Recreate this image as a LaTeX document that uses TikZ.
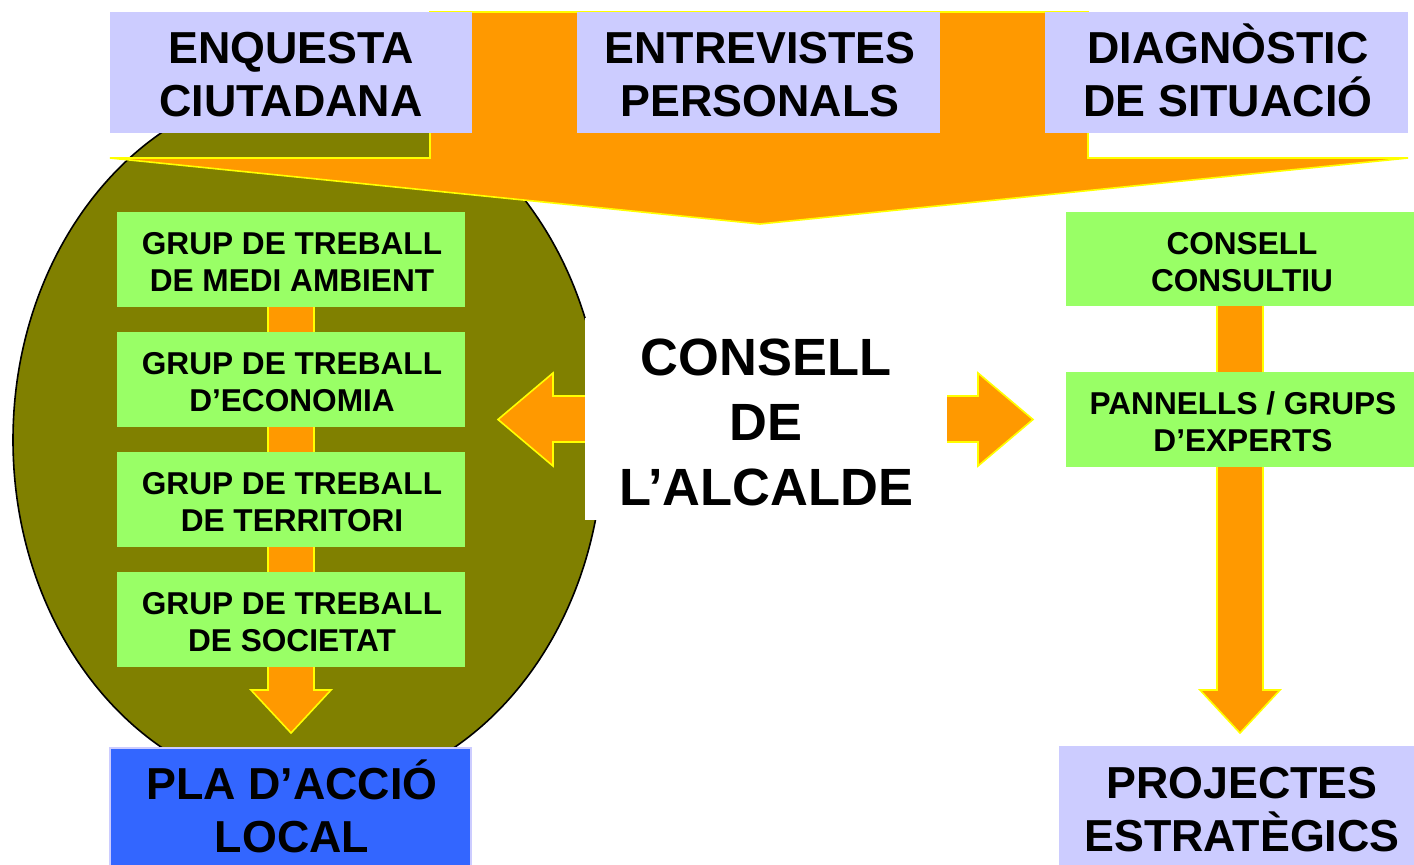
\documentclass[tikz,border=0pt]{standalone}
\usepackage{fontspec}
\setmainfont{Liberation Sans}
\usetikzlibrary{shapes.geometric}
\definecolor{lav}{HTML}{CCCCFF}
\definecolor{grn}{HTML}{99FF66}
\definecolor{olv}{HTML}{808000}
\definecolor{org}{HTML}{FF9900}
\definecolor{ylw}{HTML}{FFFF00}
\definecolor{blu}{HTML}{3366FF}
\begin{document}
\begin{tikzpicture}[x=0.5pt,y=-0.5pt,
  bigtxt/.style={font=\bfseries\fontsize{22.4}{26.5}\selectfont, inner sep=0pt, align=center},
  midtxt/.style={font=\bfseries\fontsize{15.8}{18.5}\selectfont, inner sep=0pt, align=center},
  hugetxt/.style={font=\bfseries\fontsize{26.2}{32.5}\selectfont, inner sep=0pt, align=center},
  lavbox/.style={fill=lav, draw=none, inner sep=0pt},
  grnbox/.style={fill=grn, draw=none, inner sep=0pt, minimum width=174pt, minimum height=47.5pt},
  orarrow/.style={fill=org, draw=ylw, line width=0.8pt, line join=miter},
]
\useasboundingbox (0,0) rectangle (1414,864);
% ellipse
\node (ell) [ellipse, fill=olv, draw=black, line width=0.8pt, minimum width=295pt, minimum height=354pt, inner sep=0pt] at (308,440) {};
% left vertical arrow
\draw[orarrow] (268,300) -- (314,300) -- (314,690) -- (331,690) -- (291,733) -- (251,690) -- (268,690) -- cycle;
% left green boxes
\node (g1) [grnbox] at (291,259) {};
\node (g2) [grnbox] at (291,379.5) {};
\node (g3) [grnbox] at (291,499.5) {};
\node (g4) [grnbox] at (291,619.5) {};
\node (g1t) [midtxt] at (292,262) {GRUP DE TREBALL\\DE MEDI AMBIENT};
\node (g2t) [midtxt] at (292,382.5) {GRUP DE TREBALL\\D’ECONOMIA};
\node (g3t) [midtxt] at (292,502.5) {GRUP DE TREBALL\\DE TERRITORI};
\node (g4t) [midtxt] at (292,622.5) {GRUP DE TREBALL\\DE SOCIETAT};
% big orange arrow
\draw[orarrow] (430,12) -- (1088,12) -- (1088,158) -- (1408,158) -- (760,224) -- (110,158) -- (430,158) -- cycle;
% top boxes
\node (enq) [lavbox, minimum width=181pt, minimum height=60.5pt] at (291,72.5) {};
\node (ent) [lavbox, minimum width=181.5pt, minimum height=60.5pt] at (758.5,72.5) {};
\node (dia) [lavbox, minimum width=181.5pt, minimum height=60.5pt] at (1226.5,72.5) {};
\node (enqt) [bigtxt] at (291,75) {ENQUESTA\\CIUTADANA};
\node (entt) [bigtxt] at (760,75) {ENTREVISTES\\PERSONALS};
\node (diat) [bigtxt] at (1228,70.5) {DIAGNÒSTIC\\DE SITUACIÓ};
% horizontal arrows
\draw[orarrow] (600,396) -- (553,396) -- (553,373) -- (498,419.5) -- (553,466) -- (553,442) -- (600,442) -- cycle;
\draw[orarrow] (930,396) -- (978,396) -- (978,373) -- (1033,419.5) -- (978,466) -- (978,442) -- (930,442) -- cycle;
% central white box
\node (alc) [fill=white, draw=none, inner sep=0pt, minimum width=181pt, minimum height=101pt] at (766,419) {};
\node (alct) [hugetxt] at (766,422) {CONSELL\\DE\\L’ALCALDE};
% right vertical arrow
\draw[orarrow] (1217,300) -- (1263,300) -- (1263,690) -- (1280,690) -- (1240,733) -- (1200,690) -- (1217,690) -- cycle;
% right green boxes
\node (cc) [grnbox, minimum width=176pt, minimum height=47pt] at (1242,259) {};
\node (pan) [grnbox, minimum width=176pt] at (1242,419.5) {};
\node (cct) [midtxt] at (1242,262) {CONSELL\\CONSULTIU};
\node (pant) [midtxt] at (1243,421.5) {PANNELLS / GRUPS\\D’EXPERTS};
% bottom boxes
\node (pla) [fill=blu, draw=lav, line width=0.6pt, inner sep=0pt, minimum width=180.5pt, minimum height=62pt] at (290.5,810) {};
\node (proj) [lavbox, minimum width=183pt, minimum height=64pt] at (1242,810) {};
\node (plat) [bigtxt] at (292,806) {PLA D’ACCIÓ\\LOCAL};
\node (projt) [bigtxt] at (1242,810) {PROJECTES\\ESTRATÈGICS};
\end{tikzpicture}
\end{document}
